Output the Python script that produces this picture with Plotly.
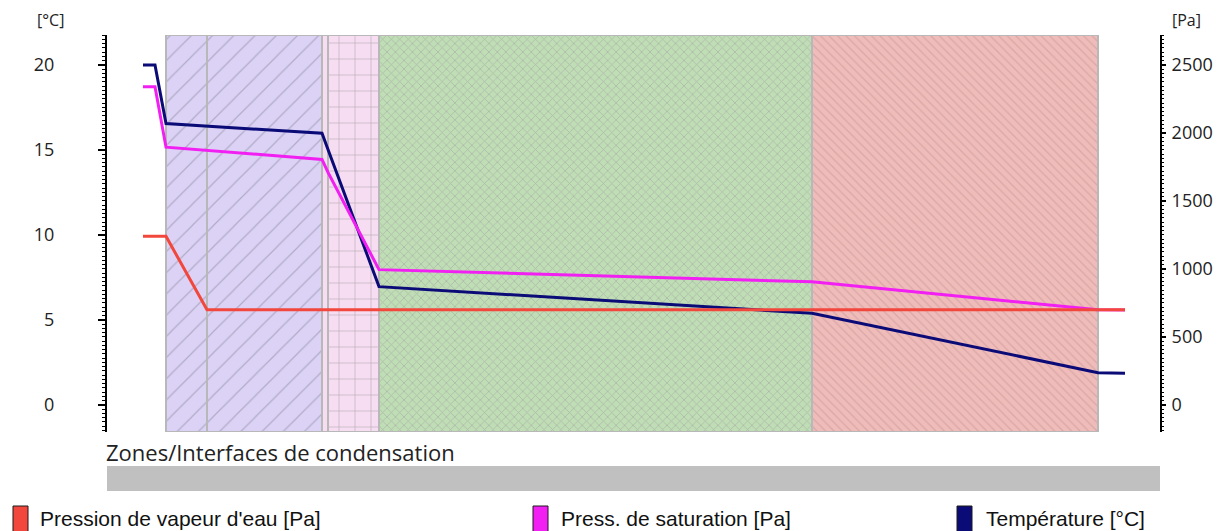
import plotly.graph_objects as go

# ---- data ----
positions = [-23, -11, 0, 41, 156, 162, 213, 646, 932, 959]
temperature = [20.0, 20.0, 16.55, 16.40, 15.98, 15.03, 6.96, 5.39, 1.90, 1.86]
p_sat = [2340, 2340, 1895, 1870, 1805, 1710, 995, 905, 700, 698]
p_vap = [1240, 1240, 1240, 700, 700, 700, 700, 700, 700, 700]

layer_edges = [0, 41, 156, 162, 213, 646, 932]
layer_fill = ["#DBD2F6", "#DBD2F6", "#F6DDF2", "#F6DDF2", "#C0DEB5", "#F0BCBA"]
layer_hatch = ["/", "/", "", "+", "x", "\\"]
layer_hatch_color = ["#B2ACC6", "#B2ACC6", "#C8BCC6", "#B8AEB8", "#ABB8A8", "#D8A8A8"]
layer_hatch_size = [15, 15, 8, 16, 6, 6]
layer_solidity = [0.08, 0.08, 0.1, 0.08, 0.25, 0.22]

t_ticks = [0, 5, 10, 15, 20]
p_ticks = [0, 500, 1000, 1500, 2000, 2500]

names = ["Pression de vapeur d'eau [Pa]", "Press. de saturation [Pa]", "Température [°C]"]
colors = ["#F2473D", "#F21FF2", "#0B0B78"]

T_RANGE = [-1.59, 21.76]
P_RANGE = [T_RANGE[0] * 125, T_RANGE[1] * 125]

fig = go.Figure()

# layers (zones) on the base (hidden) axis so they are drawn beneath the curves
for i in range(len(layer_edges) - 1):
    x0, x1 = layer_edges[i], layer_edges[i + 1]
    fig.add_trace(go.Bar(
        x=[(x0 + x1) / 2], y=[1], base=[0], width=[x1 - x0],
        yaxis="y",
        marker=dict(color=layer_fill[i],
                    line=dict(color="#B8B8B8", width=2),
                    pattern=dict(shape=layer_hatch[i], fgcolor=layer_hatch_color[i],
                                 bgcolor=layer_fill[i], size=layer_hatch_size[i],
                                 solidity=layer_solidity[i], fillmode="replace")),
        showlegend=False, hoverinfo="skip",
    ))

fig.add_trace(go.Scatter(x=positions, y=temperature, yaxis="y2", mode="lines",
                         line=dict(color=colors[2], width=3), name=names[2], showlegend=False))
fig.add_trace(go.Scatter(x=positions, y=p_sat, yaxis="y3", mode="lines",
                         line=dict(color=colors[1], width=3), name=names[1], showlegend=False))
fig.add_trace(go.Scatter(x=positions, y=p_vap, yaxis="y3", mode="lines",
                         line=dict(color=colors[0], width=3), name=names[0], showlegend=False))

PLOT_TOP, PLOT_BOT = 35, 432
H = PLOT_BOT - PLOT_TOP
def py(Y):
    return (PLOT_BOT - Y) / H
def px(X):
    return (X - 107) / (1160 - 107)

tickfont = dict(family="Open Sans", size=18, color="#222222")

fig.update_layout(
    width=1226, height=531,
    margin=dict(l=107, r=66, t=35, b=99, autoexpand=False),
    paper_bgcolor="white", plot_bgcolor="white",
    barmode="overlay", bargap=0,
    font=dict(family="Open Sans"),
    xaxis=dict(range=[-59, 994], showgrid=False, zeroline=False, showline=False,
               showticklabels=False, ticks="", fixedrange=True),
    yaxis=dict(range=[0, 1], visible=False, fixedrange=True),
    yaxis2=dict(range=T_RANGE, tickvals=t_ticks, ticktext=[str(v) for v in t_ticks],
                overlaying="y", side="left", anchor="x",
                showgrid=False, zeroline=False, showline=True, linecolor="black", linewidth=2,
                ticks="outside", ticklen=7, tickwidth=1.5, tickcolor="black",
                minor=dict(dtick=0.25, ticks="outside", ticklen=3, tickcolor="black", tickwidth=1),
                tickfont=tickfont, ticklabelstandoff=40, automargin=False),
    yaxis3=dict(range=P_RANGE, tickvals=p_ticks, ticktext=[str(v) for v in p_ticks],
                overlaying="y", side="right", anchor="x",
                showgrid=False, zeroline=False, showline=True, linecolor="black", linewidth=2,
                ticks="outside", ticklen=4, tickwidth=1.5, tickcolor="black",
                minor=dict(dtick=31.25, ticks="outside", ticklen=2, tickcolor="black", tickwidth=1),
                tickfont=tickfont, ticklabelstandoff=2, automargin=False),
)

annotations = [
    dict(text="[°C]", x=px(35), y=py(20), xanchor="left", yanchor="middle",
         font=dict(family="Open Sans", size=16, color="#222222")),
    dict(text="[Pa]", x=px(1170), y=py(20), xanchor="left", yanchor="middle",
         font=dict(family="Open Sans", size=16, color="#222222")),
    dict(text="Zones/Interfaces de condensation", x=px(104), y=py(452),
         xanchor="left", yanchor="middle",
         font=dict(family="Open Sans", size=22, color="#222222")),
]
legend_x_box = [13, 533, 957]
legend_x_text = [38, 559, 984]
shapes = [
    dict(type="rect", xref="paper", yref="paper", x0=px(107), x1=px(1160),
         y0=py(491), y1=py(466), fillcolor="#C0C0C0", line=dict(width=0), layer="below"),
]
for i in range(3):
    shapes.append(dict(type="rect", xref="paper", yref="paper",
                       x0=px(legend_x_box[i]), x1=px(legend_x_box[i] + 15),
                       y0=py(533), y1=py(506), fillcolor=colors[i],
                       line=dict(color="#1a1a1a", width=1)))
    annotations.append(dict(text=names[i], x=px(legend_x_text[i]), y=py(518),
                            xanchor="left", yanchor="middle",
                            font=dict(family="Liberation Sans", size=21, color="#111111")))
for a in annotations:
    a.update(xref="paper", yref="paper", showarrow=False)

fig.update_layout(annotations=annotations, shapes=shapes)

fig.write_html("out.html")
